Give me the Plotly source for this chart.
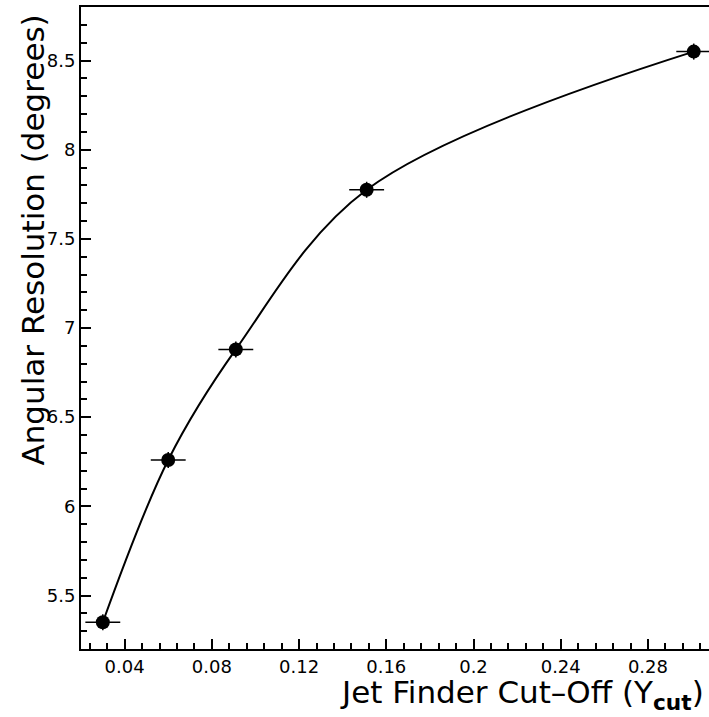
import plotly.graph_objects as go

# Data
ycut = [0.03, 0.06, 0.091, 0.151, 0.301]
resolution = [5.35, 6.26, 6.88, 7.775, 8.55]
ycut_err = [0.008, 0.008, 0.008, 0.008, 0.008]
res_err = [0.045, 0.045, 0.045, 0.045, 0.045]

FONT = "DejaVu Sans"

fig = go.Figure()
fig.add_trace(go.Scatter(
    x=ycut, y=resolution,
    mode="lines",
    line=dict(color="black", width=2, shape="spline", smoothing=1.0),
    hoverinfo="skip", showlegend=False,
))
fig.add_trace(go.Scatter(
    x=ycut, y=resolution,
    mode="markers",
    marker=dict(color="black", size=14, symbol="circle"),
    error_x=dict(type="data", array=ycut_err, color="black", thickness=1.5, width=0),
    error_y=dict(type="data", array=res_err, color="black", thickness=1.5, width=0),
    showlegend=False,
))

fig.update_layout(
    width=709, height=717,
    margin=dict(l=81, r=0, t=7, b=68),
    paper_bgcolor="white", plot_bgcolor="white",
    font=dict(family=FONT, color="black", size=18),
    xaxis=dict(
        range=[0.02, 0.308],
        tickmode="linear", tick0=0, dtick=0.04,
        ticks="inside", ticklen=10, tickwidth=2, tickcolor="black",
        minor=dict(dtick=0.008, tick0=0, ticks="inside", ticklen=6, tickwidth=1.5, tickcolor="black"),
        showline=True, linecolor="black", linewidth=2, mirror=True,
        showgrid=False, zeroline=False,
        tickfont=dict(family=FONT, size=18),
    ),
    yaxis=dict(
        range=[5.2, 8.8],
        tickmode="linear", tick0=0, dtick=0.5,
        ticks="inside", ticklen=10, tickwidth=2, tickcolor="black",
        minor=dict(dtick=0.1, tick0=0, ticks="inside", ticklen=6, tickwidth=1.5, tickcolor="black"),
        showline=True, linecolor="black", linewidth=2, mirror=False,
        showgrid=False, zeroline=False,
        tickfont=dict(family=FONT, size=18),
    ),
    annotations=[
        dict(text="Jet Finder Cut\u2013Off (Y<sub><b>cut</b></sub>)",
             xref="paper", yref="paper", x=1.0, y=0, xanchor="right", yanchor="top",
             xshift=-4, yshift=-24, borderpad=0, showarrow=False, font=dict(family=FONT, size=31)),
        dict(text="Angular Resolution (degrees)",
             xref="paper", yref="paper", x=0, y=1.0, xanchor="center", yanchor="top",
             xshift=-49, yshift=-6, textangle=-90, showarrow=False, font=dict(family=FONT, size=31)),
    ],
)

fig.write_html("out.html")
